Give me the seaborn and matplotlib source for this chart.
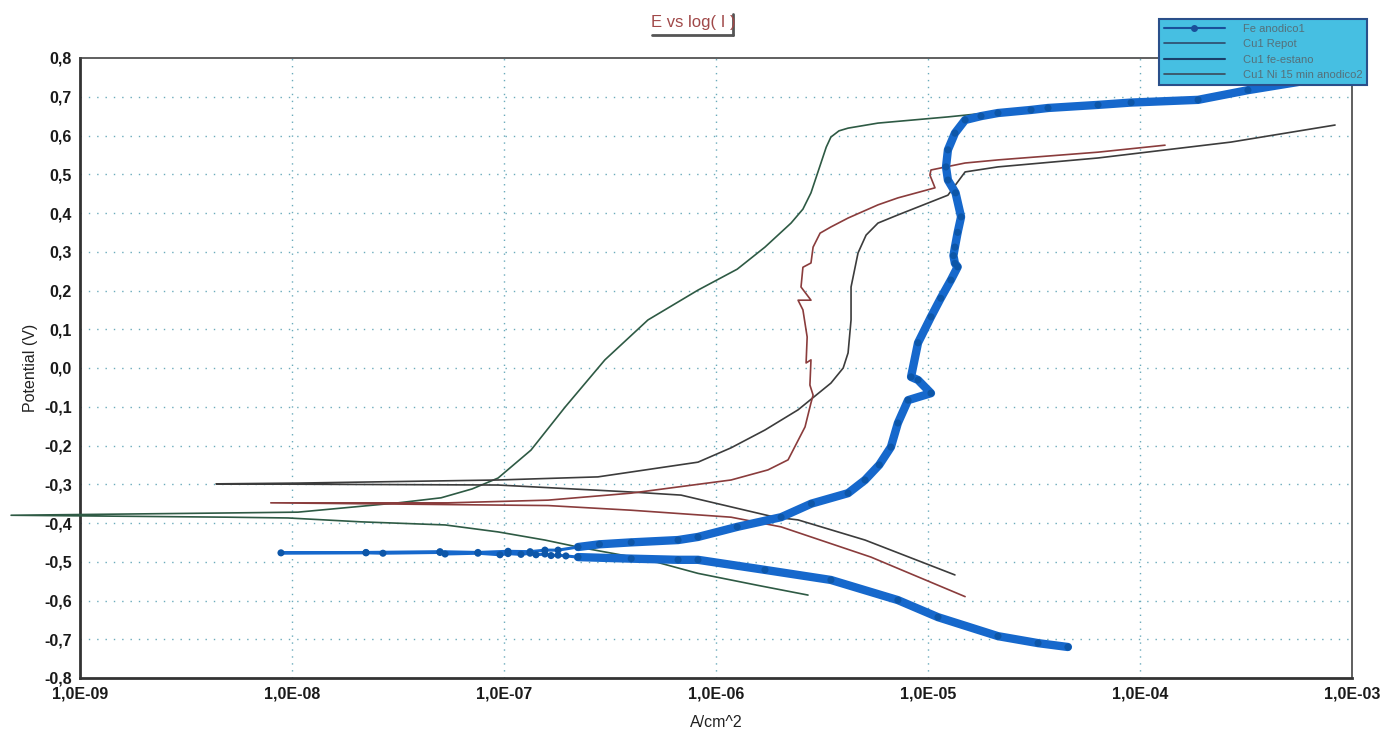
import numpy as np
import pandas as pd
import matplotlib
matplotlib.use("Agg")
import matplotlib.pyplot as plt
import matplotlib.ticker as mticker
from matplotlib.lines import Line2D
import seaborn as sns

# ---------------- data (log10 of current density, potential in V) ----------------
fe_logI = [-4.340, -4.481, -4.670, -4.953, -5.142, -5.458, -5.769, -6.085, -6.179, -6.400,
           -6.651, -6.708, -6.745, -6.778, -6.807, -6.849, -6.877, -6.920, -6.981, -7.019,
           -7.123, -7.278, -7.302, -7.571, -7.651, -8.052,
           -7.651, -7.302, -7.123, -6.981, -6.877, -6.807, -6.745, -6.651, -6.550, -6.400,
           -6.179, -6.085, -5.900, -5.693, -5.550, -5.377, -5.297, -5.230, -5.175, -5.142,
           -5.094, -4.986, -5.047, -5.080, -5.047, -4.986, -4.940, -4.892, -4.860, -4.873,
           -4.880, -4.873, -4.860, -4.844, -4.870, -4.906, -4.915, -4.906, -4.873, -4.825,
           -4.750, -4.670, -4.514, -4.434, -4.198, -4.042, -3.726, -3.491, -3.255, -3.208]
fe_E = [-0.720, -0.710, -0.692, -0.643, -0.599, -0.547, -0.521, -0.495, -0.495, -0.492,
        -0.488, -0.485, -0.483, -0.484, -0.480, -0.482, -0.478, -0.481, -0.479, -0.482,
        -0.478, -0.480, -0.476, -0.478, -0.477, -0.477,
        -0.476, -0.474, -0.476, -0.473, -0.474, -0.470, -0.470, -0.462, -0.455, -0.450,
        -0.444, -0.436, -0.410, -0.385, -0.350, -0.323, -0.289, -0.250, -0.204, -0.142,
        -0.083, -0.065, -0.031, -0.023, 0.065, 0.132, 0.180, 0.227, 0.261, 0.270,
        0.290, 0.312, 0.350, 0.390, 0.452, 0.485, 0.519, 0.563, 0.606, 0.640,
        0.650, 0.658, 0.666, 0.671, 0.679, 0.685, 0.692, 0.717, 0.738, 0.750]

cu_repot_logI = [-5.566, -5.802, -6.085, -6.321, -6.651, -6.807, -7.028, -7.278, -7.675, -8.019,
                 -8.302, -9.325, -8.288, -7.972, -7.500, -7.297, -7.150, -7.028, -6.873, -6.712,
                 -6.524, -6.321, -6.085, -5.900, -5.769, -5.646, -5.590, -5.552, -5.505, -5.480,
                 -5.458, -5.420, -5.377, -5.236, -4.906, -4.670]
cu_repot_E = [-0.586, -0.561, -0.530, -0.495, -0.462, -0.444, -0.423, -0.405, -0.397, -0.387,
              -0.385, -0.380, -0.374, -0.372, -0.348, -0.335, -0.312, -0.284, -0.212, -0.101,
              0.021, 0.124, 0.201, 0.255, 0.312, 0.374, 0.410, 0.452, 0.529, 0.570,
              0.596, 0.612, 0.619, 0.632, 0.648, 0.661]

cu_est_logI = [-4.873, -5.297, -5.613, -5.722, -6.165, -6.401, -7.028, -8.358, -7.972, -7.028,
               -6.557, -6.085, -5.929, -5.769, -5.613, -5.458, -5.400, -5.377, -5.363, -5.363,
               -5.330, -5.292, -5.236, -5.142, -4.906, -4.825, -4.670, -4.198, -3.571, -3.080]
cu_est_E = [-0.534, -0.444, -0.392, -0.385, -0.328, -0.320, -0.302, -0.299, -0.297, -0.289,
            -0.281, -0.243, -0.206, -0.160, -0.108, -0.039, 0.000, 0.039, 0.124, 0.209,
            0.297, 0.343, 0.374, 0.395, 0.446, 0.506, 0.519, 0.542, 0.583, 0.627]

cu_ni_logI = [-4.825, -5.269, -5.693, -5.929, -6.085, -6.401, -6.792, -8.100, -7.264, -6.792,
              -6.401, -5.929, -5.755, -5.660, -5.580, -5.552, -5.542, -5.557, -5.552, -5.575,
              -5.570, -5.590, -5.613, -5.552, -5.599, -5.590, -5.552, -5.542, -5.509, -5.458,
              -5.377, -5.236, -5.142, -4.967, -4.991, -4.986, -4.915, -4.825, -4.670, -4.198,
              -3.882]
cu_ni_E = [-0.590, -0.488, -0.410, -0.385, -0.379, -0.367, -0.355, -0.348, -0.348, -0.341,
           -0.323, -0.289, -0.263, -0.237, -0.152, -0.090, -0.070, -0.044, 0.021, 0.013,
           0.080, 0.150, 0.175, 0.175, 0.209, 0.260, 0.271, 0.312, 0.348, 0.364,
           0.387, 0.421, 0.439, 0.465, 0.498, 0.511, 0.519, 0.529, 0.537, 0.557,
           0.575]

series_names = ["Fe anodico1", "Cu1 Repot", "Cu1 fe-estano", "Cu1 Ni 15 min anodico2"]
series_colors = ["#1668cc", "#2e5a44", "#3c3c3c", "#8a3c3c"]

x_tick_exps = [-9, -8, -7, -6, -5, -4, -3]
x_tick_labels = ["1,0E-09", "1,0E-08", "1,0E-07", "1,0E-06", "1,0E-05", "1,0E-04", "1,0E-03"]
y_ticks = [-0.8, -0.7, -0.6, -0.5, -0.4, -0.3, -0.2, -0.1, 0.0, 0.1, 0.2, 0.3, 0.4, 0.5, 0.6, 0.7, 0.8]
y_tick_labels = ["-0,8", "-0,7", "-0,6", "-0,5", "-0,4", "-0,3", "-0,2", "-0,1", "0,0",
                 "0,1", "0,2", "0,3", "0,4", "0,5", "0,6", "0,7", "0,8"]

# ---------------- figure ----------------
sns.set_theme(style="white")
plt.rcParams["font.family"] = ["Liberation Sans", "DejaVu Sans"]

fig = plt.figure(figsize=(13.81, 7.31), dpi=100)
ax = fig.add_axes([80 / 1381, 1 - 678 / 731, (1352 - 80) / 1381, (678 - 58) / 731])

grid_col = "#6aaabb"
for e in x_tick_exps[1:-1]:
    ax.axvline(10.0 ** e, color=grid_col, lw=1.0, ls=(0, (1, 4)), zorder=0)
for v in y_ticks[1:-1]:
    ax.axhline(v, color=grid_col, lw=1.0, ls=(0, (1, 5)), zorder=0)

all_logI = [fe_logI, cu_repot_logI, cu_est_logI, cu_ni_logI]
all_E = [fe_E, cu_repot_E, cu_est_E, cu_ni_E]
for i in range(1, 4):
    df = pd.DataFrame({"I": 10.0 ** np.array(all_logI[i]), "E": all_E[i]})
    sns.lineplot(data=df, x="I", y="E", sort=False, estimator=None, ax=ax,
                 color=series_colors[i], lw=1.2, legend=False, zorder=3)
    if i == 1:
        # green curve runs past the left axis in the reference
        ax.lines[-1].set_clip_on(False)

df_fe = pd.DataFrame({"I": 10.0 ** np.array(fe_logI), "E": fe_E})
# thin line through the sparse near-Ecorr points, thick where the record is dense
sns.lineplot(data=df_fe, x="I", y="E", sort=False, estimator=None, ax=ax,
             color=series_colors[0], lw=2.2, legend=False, zorder=4)
dense_mask = np.array(fe_logI) > -6.72
seg1 = df_fe.iloc[:11]
seg2 = df_fe.iloc[33:]
for seg in (seg1, seg2):
    sns.lineplot(data=seg, x="I", y="E", sort=False, estimator=None, ax=ax,
                 color=series_colors[0], lw=6, legend=False, zorder=4)
    ax.lines[-1].set_solid_capstyle("round")
    ax.lines[-1].set_solid_joinstyle("round")
sns.scatterplot(data=df_fe, x="I", y="E", ax=ax, color="#0d56a8", s=26,
                edgecolor="none", legend=False, zorder=5)

ax.set_xscale("log")
ax.set_xlim(1e-9, 1e-3)
ax.set_ylim(-0.8, 0.8)
ax.set_xticks([10.0 ** e for e in x_tick_exps])
ax.set_xticklabels(x_tick_labels)
ax.xaxis.set_minor_locator(mticker.LogLocator(base=10, subs=np.arange(2, 10)))
ax.xaxis.set_minor_formatter(mticker.NullFormatter())
ax.set_yticks(y_ticks)
ax.set_yticklabels(y_tick_labels)
ax.yaxis.set_minor_locator(mticker.AutoMinorLocator(4))
ax.tick_params(axis="both", which="major", direction="inout", length=6, width=1,
               labelsize=11.5, colors="#222222", pad=3)
ax.tick_params(axis="both", which="minor", direction="inout", length=4, width=0.8, colors="#333333")
for lab in ax.get_xticklabels() + ax.get_yticklabels():
    lab.set_fontweight("bold")
    lab.set_color("#1a1a1a")

for s in ["left", "bottom"]:
    ax.spines[s].set_linewidth(2.0)
    ax.spines[s].set_color("#333333")
for s in ["right", "top"]:
    ax.spines[s].set_linewidth(1.2)
    ax.spines[s].set_color("#444444")
    ax.spines[s].set_visible(True)

ax.set_xlabel("A/cm^2", fontsize=11.5, labelpad=10, color="#222222")
ax.set_ylabel("Potential (V)", fontsize=11.5, labelpad=4, color="#222222")

# title
fig.text(693 / 1381, 1 - 22 / 731, "E vs log( I )", ha="center", va="center",
         fontsize=12, color="#a04848")
fig.add_artist(Line2D([652 / 1381, 733 / 1381], [1 - 35 / 731, 1 - 35 / 731],
                      color="#555555", lw=2))
fig.add_artist(Line2D([733 / 1381, 733 / 1381], [1 - 35 / 731, 1 - 14 / 731],
                      color="#555555", lw=2))

# legend
handles = [Line2D([0], [0], color="#1a4f9a", lw=1.5, marker="o", ms=4, markevery=[1]),
           Line2D([0], [0], color="#2e4a6a", lw=1.2),
           Line2D([0], [0], color="#1a3f6a", lw=1.5),
           Line2D([0], [0], color="#3a4a5a", lw=1.2)]
leg = fig.legend(handles, series_names, loc="upper right",
                 bbox_to_anchor=(1373 / 1381, 1 - 13 / 731), fontsize=8,
                 frameon=True, fancybox=False, handlelength=5.5, labelspacing=0.5,
                 borderpad=0.45, handletextpad=1.6)
leg.get_frame().set_facecolor("#46bfe2")
leg.get_frame().set_edgecolor("#2a4f8a")
leg.get_frame().set_linewidth(1.5)
leg.get_frame().set_alpha(1)
for t in leg.get_texts():
    t.set_color("#55707a")

fig.savefig("out.png", dpi=100)
